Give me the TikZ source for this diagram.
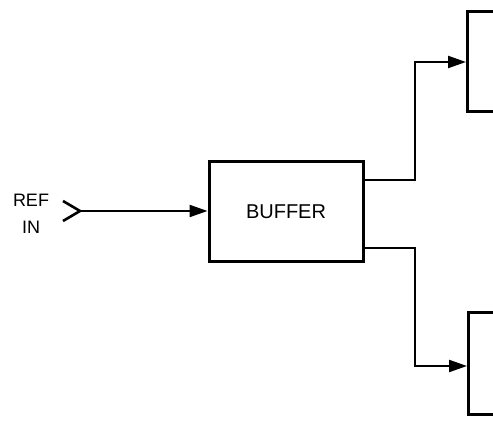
\documentclass[tikz,border=0pt]{standalone}
\usepackage{fontspec}
\setmainfont{Liberation Sans}
\usetikzlibrary{arrows.meta,calc}
\begin{document}
\begin{tikzpicture}[x=1pt,y=1pt,
  blk/.style={draw,line width=3pt,rectangle,inner sep=0pt},
  wire/.style={line width=2.2pt},
  arr/.style={wire,-{Triangle[length=18pt,width=12pt]}},
  lbl/.style={font=\fontsize{18}{20}\selectfont}]
\useasboundingbox (0,0) rectangle (493,423);
\clip (0,0) rectangle (493,423);
\node[blk,minimum width=154pt,minimum height=100pt,font=\fontsize{20}{22}\selectfont] (buf) at (286,211) {BUFFER};
\node[blk,minimum width=80pt,minimum height=100pt,anchor=west] (top) at (466,361) {};
\node[blk,minimum width=80pt,minimum height=102pt,anchor=west] (bot) at (467,59) {};
\coordinate (jack) at (80,212);
\draw[line width=2.6pt] ($(jack)+(-17,10)$) -- (jack) -- ($(jack)+(-17,-10)$);
\node[lbl] (ref) at (31,223) {REF};
\node[lbl] (in) at (31,196) {IN};
\draw[arr] (jack) -- (buf.west |- jack);
\coordinate (t1) at (buf.east |- 0,243);
\coordinate (b1) at (buf.east |- 0,175);
\draw[arr] (t1) -- (415,243) -- (415,361) -- (top.west);
\draw[arr] (b1) -- (415,175) -- (415,57) -- (bot.west |- 0,57);
\end{tikzpicture}
\end{document}
